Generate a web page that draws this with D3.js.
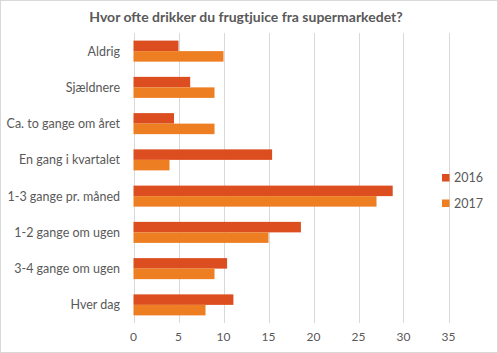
<!DOCTYPE html>
<head>
    <meta charset="utf-8">
    <title>Hvor ofte drikker du frugtjuice fra supermarkedet?</title>
    <script src="https://cdn.jsdelivr.net/npm/d3@7"></script>
    <style>
        body { margin: 0; background: #fff; }
        text { font-family: Lato, "Open Sans", sans-serif; fill: #595959; }
    </style>
</head>
<body>
<div id="container"></div>
<script>

    // Data
    const categories = ["Aldrig", "Sjældnere", "Ca. to gange om året", "En gang i kvartalet",
        "1-3 gange pr. måned", "1-2 gange om ugen", "3-4 gange om ugen", "Hver dag"];
    const years = ["2016", "2017"];
    const values2016 = [5, 6.3, 4.5, 15.4, 28.8, 18.6, 10.4, 11.1];
    const values2017 = [10, 9, 9, 4, 27, 15, 9, 8];
    const xTicks = [0, 5, 10, 15, 20, 25, 30, 35];

    const width = 498;
    const height = 353;
    const colors = { "2016": "#dc4e1f", "2017": "#ee7e22" };

    const svg = d3.select("#container")
        .append("svg")
        .attr("width", width)
        .attr("height", height);

    // chart border
    svg.append("rect")
        .attr("x", 0.5).attr("y", 0.5)
        .attr("width", width - 1).attr("height", height - 1)
        .attr("fill", "#fff")
        .attr("stroke", "#d9d9d9");

    // title
    svg.append("text")
        .attr("x", 246)
        .attr("y", 22)
        .attr("text-anchor", "middle")
        .attr("font-size", 14)
        .attr("font-weight", "bold")
        .text("Hvor ofte drikker du frugtjuice fra supermarkedet?");

    const plot = { left: 133.5, right: 448.5, top: 33, bottom: 323 };

    const x = d3.scaleLinear().domain([0, 35]).range([plot.left, plot.right]);
    const y = d3.scaleBand().domain(categories).range([plot.top, plot.bottom]).paddingInner(0.42).paddingOuter(0.21);
    const ySub = d3.scaleBand().domain(years).range([0, y.bandwidth()]);

    // gridlines
    svg.append("g")
        .selectAll("line")
        .data(xTicks)
        .join("line")
        .attr("x1", d => Math.round(x(d)) + 0.5)
        .attr("x2", d => Math.round(x(d)) + 0.5)
        .attr("y1", plot.top)
        .attr("y2", plot.bottom)
        .attr("stroke", "#d9d9d9")
        .attr("stroke-width", 1);

    // bars
    const rows = categories.map((c, i) => ({ cat: c, vals: [values2016[i], values2017[i]] }));
    const groups = svg.append("g")
        .selectAll("g")
        .data(rows)
        .join("g")
        .attr("transform", d => `translate(0,${y(d.cat)})`);

    groups.selectAll("rect")
        .data(d => years.map((yr, j) => ({ year: yr, value: d.vals[j] })))
        .join("rect")
        .attr("x", x(0))
        .attr("y", d => ySub(d.year))
        .attr("width", d => x(d.value) - x(0))
        .attr("height", ySub.bandwidth())
        .attr("fill", d => colors[d.year]);

    // category labels
    svg.append("g")
        .selectAll("text")
        .data(categories)
        .join("text")
        .attr("x", 120)
        .attr("y", d => y(d) + y.bandwidth() / 2)
        .attr("dy", "0.35em")
        .attr("text-anchor", "end")
        .attr("font-size", 12.5)
        .text(d => d);

    // x tick labels
    svg.append("g")
        .selectAll("text")
        .data(xTicks)
        .join("text")
        .attr("x", d => x(d))
        .attr("y", 341)
        .attr("text-anchor", "middle")
        .attr("font-size", 12)
        .text(d => d);

    // legend
    const legend = svg.append("g")
        .selectAll("g")
        .data(years)
        .join("g")
        .attr("transform", (d, i) => `translate(442,${174 + i * 25.5})`);

    legend.append("rect")
        .attr("width", 7.5)
        .attr("height", 7.5)
        .attr("fill", d => colors[d]);

    legend.append("text")
        .attr("x", 12)
        .attr("y", 4)
        .attr("dy", "0.35em")
        .attr("font-size", 12.5)
        .text(d => d);

</script>
</body>
